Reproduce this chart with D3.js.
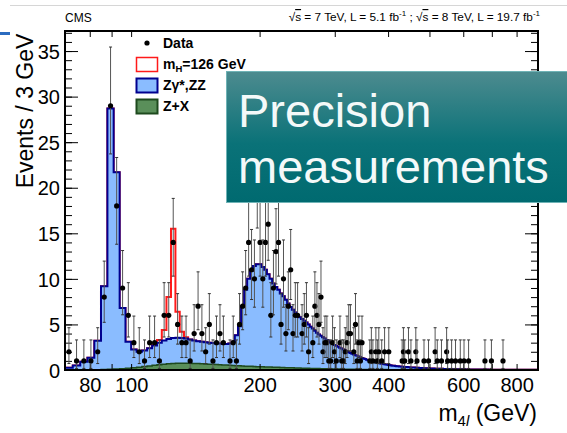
<!DOCTYPE html>
<html lang="en">
<head>
<meta charset="UTF-8">
<title>m4l spectrum</title>
<script src="https://cdnjs.cloudflare.com/ajax/libs/d3/7.8.5/d3.min.js"></script>
<style>
  html, body { margin: 0; padding: 0; background: #fff; }
  svg { display: block; font-family: "Liberation Sans", Arial, Helvetica, sans-serif; }
</style>
</head>
<body>
<svg id="chart" width="567" height="433"></svg>
<script>
// histogram binning: 3 GeV bins starting at 70 GeV
const binStart = 70, binWidth = 3;

// ZZ / Zgamma* background per bin (events / 3 GeV)
const zzBkg = [
  0.25, 0.50, 0.89, 1.33, 3.17, 9.15, 28.63, 21.60, 6.66, 2.91,
  2.00, 1.69, 1.77, 1.95, 2.18, 2.42, 2.62, 2.72, 2.79, 2.82,
  2.76, 2.71, 2.62, 2.53, 2.45, 2.42, 2.39, 2.36, 2.33, 2.30,
  2.32, 2.29, 2.31, 2.38, 2.60, 3.32, 4.34, 6.56, 8.38, 9.59,
  10.50, 11.02, 11.23, 11.24, 10.95, 10.66, 10.17, 9.68, 9.19, 8.80,
  8.51, 8.12, 7.83, 7.44, 7.05, 6.66, 6.37, 6.07, 5.78, 5.59,
  5.40, 5.21, 5.01, 4.82, 4.58, 4.38, 4.14, 3.94, 3.75, 3.60,
  3.46, 3.31, 3.17, 3.02, 2.88, 2.73, 2.64, 2.54, 2.45, 2.35,
  2.25, 2.16, 2.06, 1.96, 1.86, 1.77, 1.70, 1.62, 1.54, 1.48,
  1.40, 1.33, 1.26, 1.19, 1.14, 1.07, 1.01, 0.95, 0.90, 0.87,
  0.83, 0.79, 0.75, 0.71, 0.67, 0.64, 0.62, 0.59, 0.56, 0.53,
  0.51, 0.48, 0.46, 0.44, 0.42, 0.40, 0.39, 0.38, 0.36, 0.35,
  0.33, 0.32, 0.31, 0.30, 0.29, 0.28, 0.27, 0.26, 0.25, 0.25,
  0.24, 0.23, 0.22, 0.22, 0.21, 0.20, 0.20, 0.19, 0.18, 0.18,
  0.17, 0.17, 0.16, 0.16, 0.15, 0.15, 0.14, 0.14, 0.13, 0.13,
  0.125, 0.122, 0.120, 0.117, 0.114, 0.110, 0.107, 0.105, 0.102, 0.100,
  0.095, 0.093, 0.090, 0.088, 0.085, 0.083, 0.080, 0.078, 0.076, 0.074,
  0.072, 0.070, 0.068, 0.066, 0.064, 0.063, 0.061, 0.060, 0.058, 0.057,
  0.056, 0.054, 0.053, 0.052, 0.051, 0.050, 0.049, 0.048, 0.047, 0.046,
  0.045, 0.044, 0.043, 0.042, 0.041, 0.041, 0.040, 0.039, 0.038, 0.038,
  0.037, 0.036, 0.036, 0.035, 0.034, 0.034, 0.033, 0.032, 0.032, 0.031,
  0.031, 0.030, 0.030, 0.029, 0.029, 0.028, 0.028, 0.027, 0.027, 0.026,
  0.026, 0.025, 0.025, 0.025, 0.024, 0.024, 0.023, 0.023, 0.023, 0.022,
  0.022, 0.022, 0.021, 0.021, 0.021, 0.020, 0.020, 0.020, 0.019, 0.019,
  0.019, 0.019, 0.018, 0.018, 0.018, 0.017, 0.017, 0.017, 0.017, 0.016,
  0.016, 0.016, 0.016, 0.015, 0.015, 0.015, 0.015, 0.014, 0.014, 0.014,
  0.014, 0.014, 0.013, 0.013, 0.013, 0.013, 0.013, 0.012, 0.012, 0.012,
  0.012, 0.012, 0.011, 0.011, 0.011, 0.011
];

// reducible Z+X background per bin
const zxBkg = [
  0, 0, 0.01, 0.02, 0.03, 0.05, 0.07, 0.10, 0.14, 0.19,
  0.25, 0.31, 0.38, 0.45, 0.52, 0.58, 0.63, 0.68, 0.71, 0.73,
  0.74, 0.74, 0.73, 0.72, 0.70, 0.68, 0.66, 0.64, 0.62, 0.60,
  0.58, 0.56, 0.54, 0.52, 0.50, 0.48, 0.46, 0.44, 0.42, 0.41,
  0.40, 0.38, 0.37, 0.36, 0.35, 0.34, 0.33, 0.32, 0.31, 0.30,
  0.29, 0.28, 0.27, 0.26, 0.25, 0.24, 0.235, 0.23, 0.22, 0.21,
  0.20, 0.195, 0.19, 0.18, 0.175, 0.17, 0.165, 0.16, 0.155, 0.15,
  0.145, 0.14, 0.135, 0.13, 0.125, 0.12, 0.115, 0.11, 0.105, 0.10,
  0.098, 0.095, 0.092, 0.090, 0.087, 0.085, 0.082, 0.080, 0.078, 0.075,
  0.073, 0.070, 0.068, 0.066, 0.064, 0.062, 0.060, 0.058, 0.056, 0.055,
  0.053, 0.052, 0.050, 0.049, 0.047, 0.046, 0.045, 0.044, 0.043, 0.042,
  0.041, 0.040, 0.039, 0.038, 0.037, 0.036, 0.035, 0.034, 0.033, 0.032,
  0.031, 0.030, 0.030, 0.029, 0.028, 0.028, 0.027, 0.026, 0.026, 0.025,
  0.024, 0.024, 0.023, 0.023, 0.022, 0.022, 0.021, 0.021, 0.020, 0.020,
  0.020, 0.019, 0.019, 0.018, 0.018, 0.018, 0.017, 0.017, 0.017, 0.016,
  0.016, 0.016, 0.015, 0.015, 0.015, 0.014, 0.014, 0.014, 0.014, 0.013,
  0.013, 0.013, 0.013, 0.012, 0.012, 0.012, 0.012, 0.012, 0.011, 0.011,
  0.011, 0.011, 0.011, 0.011, 0.011, 0.011, 0.011, 0.011, 0.011, 0.011,
  0.010, 0.010, 0.010, 0.010, 0.010, 0.010, 0.010, 0.010, 0.010, 0.010,
  0.010, 0.010, 0.009, 0.009, 0.009, 0.009, 0.009, 0.009, 0.009, 0.009,
  0.008, 0.008, 0.008, 0.008, 0.008, 0.008, 0.008, 0.008, 0.008, 0.008,
  0.008, 0.008, 0.008, 0.007, 0.007, 0.007, 0.007, 0.007, 0.007, 0.007,
  0.007, 0.007, 0.007, 0.007, 0.007, 0.007, 0.007, 0.007, 0.007, 0.007,
  0.006, 0.006, 0.006, 0.006, 0.006, 0.006, 0.006, 0.006, 0.006, 0.006,
  0.006, 0.006, 0.006, 0.006, 0.006, 0.006, 0.006, 0.006, 0.006, 0.006,
  0.006, 0.006, 0.005, 0.005, 0.005, 0.005, 0.005, 0.005, 0.005, 0.005,
  0.005, 0.005, 0.005, 0.005, 0.005, 0.005, 0.005, 0.005, 0.005, 0.005,
  0.005, 0.005, 0.005, 0.005, 0.005, 0.005
];

// Higgs signal, mH = 126 GeV (bin centres and yields)
const sigMass = [113.5, 116.5, 119.5, 122.5, 125.5, 128.5, 131.5, 134.5];
const sigVals = [0.05, 0.30, 1.15, 4.60, 12.0, 2.85, 0.70, 0.15];

// observed events (bin centres and counts)
const dataMass = [
  71.5, 74.5, 77.5, 80.5, 83.5, 86.5, 89.5, 92.5, 95.5, 98.5,
  101.5, 104.5, 107.5, 110.5, 113.5, 116.5, 119.5, 122.5, 125.5, 128.5,
  131.5, 134.5, 137.5, 140.5, 143.5, 146.5, 149.5, 152.5, 155.5, 158.5,
  161.5, 164.5, 170.5, 173.5, 176.5, 179.5, 182.5, 185.5, 188.5,
  191.5, 194.5, 197.5, 200.5, 203.5, 206.5, 209.5, 212.5, 215.5, 218.5,
  221.5, 224.5, 227.5, 230.5, 233.5, 236.5, 239.5, 242.5, 245.5,
  251.5, 254.5, 257.5, 260.5, 266.5, 269.5, 272.5, 275.5, 278.5,
  281.5, 284.5, 287.5, 290.5, 293.5, 296.5, 299.5, 302.5, 308.5,
  311.5, 314.5, 317.5, 320.5, 323.5, 326.5, 332.5, 335.5, 338.5,
  341.5, 344.5, 347.5, 362.5, 365.5, 368.5, 374.5, 377.5, 380.5,
  386.5, 392.5, 401.5, 431.5, 434.5, 437.5, 446.5, 452.5, 464.5,
  467.5, 485.5, 497.5, 515.5, 521.5, 533.5, 548.5, 551.5, 563.5,
  575.5, 590.5, 602.5, 617.5, 674.5, 698.5, 743.5
];
const dataCount = [
  2, 1, 1, 1, 2, 8, 29, 18, 9, 6,
  3, 2, 1, 3, 3, 1, 6, 6, 14, 5,
  3, 3, 1, 4, 7, 4, 2, 5, 1, 3,
  4, 3, 1, 3, 1, 5, 7, 9, 14,
  11, 10, 20, 14, 10, 14, 16, 6, 9, 13,
  14, 5, 10, 4, 7, 11, 4, 6, 6,
  4, 5, 6, 2, 3, 7, 6, 5, 8,
  2, 3, 3, 1, 1, 3, 2, 1, 3,
  1, 1, 2, 3, 4, 4, 2, 5, 1,
  3, 1, 3, 1, 2, 1, 2, 1, 2,
  1, 2, 2, 1, 2, 1, 2, 1, 2,
  1, 1, 1, 2, 1, 1, 2, 1, 1,
  1, 1, 1, 1, 1, 1, 1
];

// 68% Poisson (Garwood) interval edges, indexed by count
const poisLo = [0, 0.173, 0.708, 1.367, 2.086, 2.840, 3.620, 4.419, 5.232, 6.057,
  6.891, 7.734, 8.585, 9.441, 10.30, 11.17, 12.04, 12.92, 13.80, 14.69,
  15.58, 16.48, 17.37, 18.27, 19.17, 20.08, 20.98, 21.89, 22.80, 23.71];
const poisHi = [1.841, 3.300, 4.638, 5.918, 7.163, 8.382, 9.584, 10.77, 11.95, 13.11,
  14.27, 15.42, 16.56, 17.70, 18.83, 19.96, 21.08, 22.20, 23.32, 24.44,
  25.55, 26.66, 27.76, 28.87, 29.97, 31.07, 32.16, 33.26, 34.35, 35.44];

const xTickLabels = [80, 100, 200, 300, 400, 600, 800];
const xTicks = [70, 80, 90, 100, 200, 300, 400, 500, 600, 700, 800];
const yMajor = [0, 5, 10, 15, 20, 25, 30, 35];
const yMinor = d3.range(0, 38, 1);

const L = 65, R = 538, T = 31, B = 370;
const nBins = zzBkg.length;
const massEnd = binStart + binWidth * nBins;

const x = d3.scaleLog().domain([binStart, massEnd]).range([L, R]);
const y = d3.scaleLinear().domain([0, 37.2]).range([B, T]);

const svg = d3.select("#chart");

// slide decorations
svg.append("line").attr("x1", 10).attr("x2", 567).attr("y1", 5.5).attr("y2", 5.5)
  .attr("stroke", "#d6d6d6").attr("stroke-width", 1);
svg.append("rect").attr("x", 0).attr("y", 32).attr("width", 10).attr("height", 3).attr("fill", "#2b6cc0");

// build stacked bins
const sigByBin = new Array(nBins).fill(0);
sigMass.forEach((m, i) => { sigByBin[Math.floor((m - binStart) / binWidth)] = sigVals[i]; });
const bins = zzBkg.map((v, i) => ({
  m: binStart + i * binWidth,
  zx: zxBkg[i],
  bkg: zxBkg[i] + v,
  tot: zxBkg[i] + v + sigByBin[i]
}));
const last = bins[bins.length - 1];
const steps = bins.concat([Object.assign({}, last, { m: massEnd })]);

svg.append("clipPath").attr("id", "plotclip")
  .append("rect").attr("x", L).attr("y", T).attr("width", R - L).attr("height", B - T);
const plot = svg.append("g").attr("clip-path", "url(#plotclip)");

const stepLine = key => d3.line().curve(d3.curveStepAfter).x(d => x(d.m)).y(d => y(d[key]));

// signal + background outline
plot.append("path").datum(steps)
  .attr("d", stepLine("tot"))
  .attr("fill", "none").attr("stroke", "#ff1a1a").attr("stroke-width", 2);

// ZZ area
plot.append("path").datum(steps)
  .attr("d", d3.area().curve(d3.curveStepAfter).x(d => x(d.m)).y0(y(0)).y1(d => y(d.bkg)))
  .attr("fill", "#8abcff");
plot.append("path").datum(steps)
  .attr("d", stepLine("bkg"))
  .attr("fill", "none").attr("stroke", "#00008f").attr("stroke-width", 2);

// Z+X area
plot.append("path").datum(steps)
  .attr("d", d3.area().curve(d3.curveStepAfter).x(d => x(d.m)).y0(y(0)).y1(d => y(d.zx)))
  .attr("fill", "#5a8f5a");
plot.append("path").datum(steps)
  .attr("d", stepLine("zx"))
  .attr("fill", "none").attr("stroke", "#1e4a1e").attr("stroke-width", 1.5);

// axes and frame
const ax = svg.append("g");

ax.append("g").attr("transform", `translate(${L},0)`)
  .call(d3.axisLeft(y).tickValues(yMinor).tickSize(-7).tickFormat(""));
const yLeft = ax.append("g").attr("transform", `translate(${L},0)`)
  .call(d3.axisLeft(y).tickValues(yMajor).tickSize(-13).tickPadding(5));
ax.append("g").attr("transform", `translate(${R},0)`)
  .call(d3.axisRight(y).tickValues(yMinor).tickSize(-7).tickFormat(""));
ax.append("g").attr("transform", `translate(${R},0)`)
  .call(d3.axisRight(y).tickValues(yMajor).tickSize(-13).tickFormat(""));
ax.append("g").attr("transform", `translate(0,${B})`)
  .call(d3.axisBottom(x).tickValues(xTicks).tickSize(-6).tickFormat(""));
ax.append("g").attr("transform", `translate(0,${T})`)
  .call(d3.axisTop(x).tickValues(xTicks).tickSize(-6).tickFormat(""));
const xLabels = ax.append("g").attr("transform", `translate(0,${B})`)
  .call(d3.axisBottom(x).tickValues(xTickLabels).tickSize(0).tickPadding(8).tickFormat(d3.format("d")));

ax.selectAll(".domain").remove();
ax.selectAll(".tick line").attr("stroke", "#000").attr("stroke-width", 1);
ax.selectAll("text").attr("font-family", "Liberation Sans, Arial, sans-serif");
yLeft.selectAll("text").attr("font-size", 20).attr("fill", "#000").attr("dy", "0.36em");
xLabels.selectAll("text").attr("font-size", 20).attr("fill", "#000");

ax.append("rect").attr("x", L).attr("y", T).attr("width", R - L).attr("height", B - T)
  .attr("fill", "none").attr("stroke", "#000").attr("stroke-width", 2);

// data with asymmetric Poisson errors
const data = dataMass.map((m, i) => ({ m, n: dataCount[i] }));
const pts = svg.append("g").selectAll("g").data(data).join("g")
  .attr("transform", d => `translate(${x(d.m)},0)`);
pts.append("line")
  .attr("y1", d => y(poisLo[d.n])).attr("y2", d => y(poisHi[d.n]))
  .attr("stroke", "#555").attr("stroke-width", 1);
pts.append("line").attr("x1", -1.5).attr("x2", 1.5)
  .attr("y1", d => y(poisHi[d.n])).attr("y2", d => y(poisHi[d.n]))
  .attr("stroke", "#333").attr("stroke-width", 1);
pts.append("line").attr("x1", -1.5).attr("x2", 1.5)
  .attr("y1", d => y(poisLo[d.n])).attr("y2", d => y(poisLo[d.n]))
  .attr("stroke", "#333").attr("stroke-width", 1);
pts.append("circle").attr("cy", d => y(d.n)).attr("r", 2.6).attr("fill", "#000");

// header texts
svg.append("text").attr("x", 65).attr("y", 22).attr("font-size", 12).text("CMS");
const hdr = svg.append("text").attr("x", 540).attr("y", 21).attr("font-size", 11.8).attr("text-anchor", "end");
hdr.append("tspan").text("√");
hdr.append("tspan").attr("text-decoration", "overline").text("s");
hdr.append("tspan").text(" = 7 TeV, L = 5.1 fb");
hdr.append("tspan").attr("font-size", 8).attr("dy", -5).text("-1");
hdr.append("tspan").attr("dy", 5).text(" ; √");
hdr.append("tspan").attr("text-decoration", "overline").text("s");
hdr.append("tspan").text(" = 8 TeV, L = 19.7 fb");
hdr.append("tspan").attr("font-size", 8).attr("dy", -5).text("-1");

// axis titles
svg.append("text").attr("transform", "translate(32.5,111) rotate(-90)")
  .attr("text-anchor", "middle").attr("font-size", 23).text("Events / 3 GeV");
const xt = svg.append("text").attr("x", 537).attr("y", 421).attr("text-anchor", "end").attr("font-size", 23);
xt.append("tspan").text("m");
xt.append("tspan").attr("font-size", 15).attr("dy", 5).text("4");
xt.append("tspan").attr("font-size", 15).attr("font-style", "italic").text("l");
xt.append("tspan").attr("dy", -5).text(" (GeV)");

// legend
const leg = svg.append("g").attr("font-size", 14).attr("font-weight", "bold");
leg.append("circle").attr("cx", 147).attr("cy", 43).attr("r", 2.6);
leg.append("text").attr("x", 163).attr("y", 48).text("Data");
leg.append("rect").attr("x", 136.5).attr("y", 57.5).attr("width", 21).attr("height", 14)
  .attr("fill", "#fff").attr("stroke", "#ff1a1a").attr("stroke-width", 1.5);
const lt = leg.append("text").attr("x", 163).attr("y", 69);
lt.append("tspan").text("m");
lt.append("tspan").attr("font-size", 9.5).attr("dy", 3).text("H");
lt.append("tspan").attr("dy", -3).text("=126 GeV");
leg.append("rect").attr("x", 136.5).attr("y", 78.5).attr("width", 21).attr("height", 14)
  .attr("fill", "#8abcff").attr("stroke", "#00008f").attr("stroke-width", 2);
leg.append("text").attr("x", 163).attr("y", 90).text("Zγ*,ZZ");
leg.append("rect").attr("x", 136.5).attr("y", 99.5).attr("width", 21).attr("height", 14)
  .attr("fill", "#5a8f5a").attr("stroke", "#1e4a1e").attr("stroke-width", 2);
leg.append("text").attr("x", 163).attr("y", 111).text("Z+X");

// slide overlay box
const grad = svg.append("defs").append("linearGradient").attr("id", "teal")
  .attr("x1", 0).attr("y1", 0).attr("x2", 0).attr("y2", 1);
grad.append("stop").attr("offset", "0%").attr("stop-color", "#4d8b8f");
grad.append("stop").attr("offset", "55%").attr("stop-color", "#0a7278");
grad.append("stop").attr("offset", "100%").attr("stop-color", "#006a70");
svg.append("rect").attr("x", 226.5).attr("y", 71.5).attr("width", 345).attr("height", 131)
  .attr("fill", "url(#teal)").attr("stroke", "#6fb3b6").attr("stroke-width", 1);
svg.append("text").attr("x", 238).attr("y", 127).attr("font-size", 47).attr("fill", "#f4f9f9").text("Precision");
svg.append("text").attr("x", 238).attr("y", 183).attr("font-size", 47).attr("fill", "#f4f9f9").text("measurements");
</script>
</body>
</html>
